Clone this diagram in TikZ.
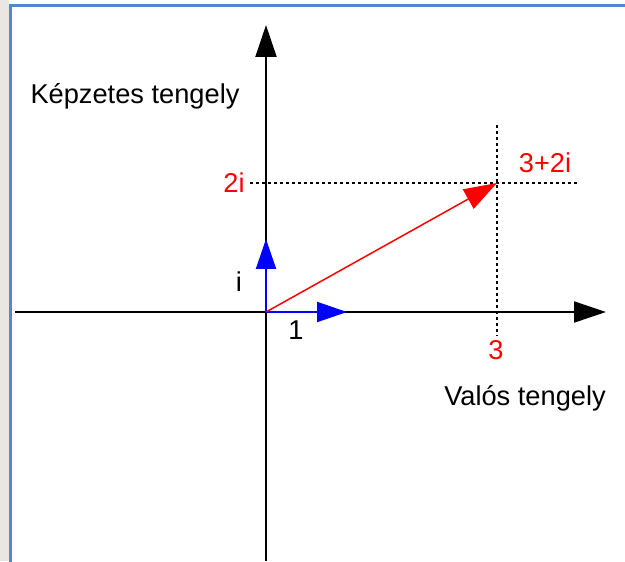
\documentclass[tikz,border=0pt]{standalone}
\usepackage{fontspec}
\setmainfont{Liberation Sans}
\usepackage{xcolor}
\usepackage{tikz}
\usetikzlibrary{arrows.meta}

\definecolor{frameblue}{RGB}{86,135,204}
\definecolor{sidegray}{RGB}{234,231,226}

\begin{document}
\begin{tikzpicture}[x=0.02cm, y=-0.02cm, >={Triangle[length=0.64cm, width=0.42cm]},
  font=\fontsize{15.5}{18}\selectfont,
  axis/.style={->, line width=0.04cm},
  unitvec/.style={->, line width=0.04cm, blue, >={Triangle[length=0.6cm, width=0.4cm]}},
  guide/.style={line width=0.04cm, dash pattern=on 0.06cm off 0.06cm},
  val/.style={text=red}]
  \useasboundingbox (0,0) rectangle (625,561);
  % window frame
  \fill[sidegray] (0,0) rectangle (9,561);
  \draw[frameblue, line width=0.045cm] (10.5,570) |- (640,5.5);

  \coordinate (O) at (266,312);
  \coordinate (P) at (497,183);
  \coordinate (xl) at (15,312);
  \coordinate (xr) at (606,312);
  \coordinate (yb) at (266,561);
  \coordinate (yt) at (266,25);
  \coordinate (e1) at (347,312);
  \coordinate (ei) at (266,239);
  \coordinate (gl) at (250,183);
  \coordinate (gr) at (577,183);
  \coordinate (gt) at (497,125);
  \coordinate (gb) at (497,335);

  % dotted guides
  \draw[guide] (gl) -- (gr);
  \draw[guide] (gt) -- (gb);

  % axes
  \draw[axis] (xl) -- (xr);
  \draw[axis] (yb) -- (yt);

  % unit vectors
  \draw[unitvec] (O) -- (e1);
  \draw[unitvec] (O) -- (ei);

  % the number 3+2i
  \draw[->, red, line width=0.03cm, >={Triangle[length=0.66cm, width=0.44cm]}] (O) -- (P);

  \node (im) at (135,96) {Képzetes tengely};
  \node (re) at (525,398) {Valós tengely};
  \node (one) at (296,330) {1};
  \node (imag) at (239,282) {i};
  \node[val] (two) at (234,183) {2i};
  \node[val] (three) at (496,350) {3};
  \node[val] (z) at (545,163) {3+2i};
\end{tikzpicture}
\end{document}
